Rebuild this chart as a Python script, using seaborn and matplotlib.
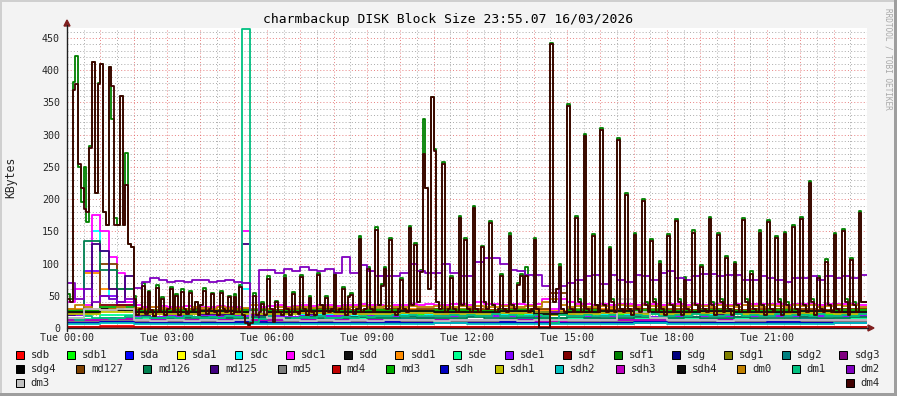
import numpy as np
import pandas as pd
import matplotlib
matplotlib.use("Agg")
import matplotlib.pyplot as plt
import seaborn as sns
from matplotlib.patches import Rectangle, Polygon
from matplotlib.lines import Line2D

# device names in legend order (= drawing order)
names = ['sdb', 'sdb1', 'sda', 'sda1', 'sdc', 'sdc1', 'sdd', 'sdd1', 'sde', 'sde1',
         'sdf', 'sdf1', 'sdg', 'sdg1', 'sdg2', 'sdg3', 'sdg4', 'md127', 'md126', 'md125',
         'md5', 'md4', 'md3', 'sdh', 'sdh1', 'sdh2', 'sdh3', 'sdh4', 'dm0', 'dm1',
         'dm2', 'dm3', 'dm4']
colors = ['#FF0000', '#00FF00', '#0000FF', '#FFFF00', '#00FFFF', '#FF00FF', '#111111', '#FF8C00',
          '#00FF90', '#8000FF', '#800000', '#008000', '#000080', '#808000', '#008080', '#800080',
          '#000000', '#804000', '#008050', '#400080', '#808080', '#C00000', '#00B000', '#0000C0',
          '#C0C000', '#00C0C0', '#C000C0', '#101010', '#C08000', '#00C080', '#8000C0', '#C0C0C0',
          '#400000']
legend_rows = [names[:16], names[16:31], names[31:]]
x_labels = ['Tue 00:00', 'Tue 03:00', 'Tue 06:00', 'Tue 09:00',
            'Tue 12:00', 'Tue 15:00', 'Tue 18:00', 'Tue 21:00']

# KBytes, one value per step; the step length is 24h / len(list)
# 5-minute samples
dm4 = [45, 40, 370, 378, 255, 218, 185, 180, 280, 412, 210, 378,
       410, 180, 160, 405, 375, 160, 160, 360, 160, 222, 130, 125,
       45, 20, 30, 65, 22, 56, 28, 18, 62, 25, 45, 20,
       30, 61, 25, 50, 20, 56, 30, 22, 55, 28, 40, 20,
       35, 58, 22, 30, 52, 25, 20, 55, 30, 25, 48, 22,
       48, 25, 63, 20, 8, 5, 8, 50, 20, 25, 38, 20,
       76, 30, 10, 40, 25, 20, 78, 30, 20, 52, 25, 22,
       79, 30, 20, 47, 25, 20, 83, 35, 22, 46, 25, 30,
       82, 25, 30, 61, 20, 48, 51, 22, 30, 138, 25, 30,
       92, 30, 25, 152, 35, 65, 92, 30, 137, 25, 20, 30,
       74, 30, 25, 155, 35, 129, 40, 87, 270, 217, 60, 358,
       275, 40, 30, 254, 25, 30, 77, 30, 25, 171, 35, 137,
       30, 25, 186, 30, 25, 125, 40, 30, 163, 35, 25, 30,
       80, 30, 25, 143, 35, 30, 66, 80, 40, 81, 25, 30,
       137, 30, 0, 0, 0, 0, 440, 40, 60, 95, 30, 25,
       345, 30, 25, 171, 40, 25, 298, 30, 25, 143, 35, 25,
       308, 35, 25, 123, 40, 25, 292, 30, 25, 206, 30, 20,
       145, 30, 25, 197, 35, 25, 135, 40, 25, 100, 30, 20,
       142, 35, 25, 166, 40, 20, 75, 30, 25, 148, 35, 25,
       95, 30, 25, 169, 35, 20, 145, 40, 25, 108, 30, 20,
       100, 35, 25, 168, 40, 25, 84, 30, 25, 148, 35, 20,
       165, 30, 25, 140, 40, 20, 146, 35, 25, 157, 30, 20,
       169, 35, 25, 225, 40, 20, 77, 30, 25, 103, 35, 25,
       145, 30, 25, 150, 40, 20, 105, 35, 25, 178, 40, 40]
sdf1 = [52, 45, 382, 422, 250, 195, 250, 165, 282, 412, 210, 380,
        410, 180, 160, 405, 325, 170, 160, 360, 160, 272, 130, 125,
        50, 20, 30, 70, 22, 58, 28, 18, 66, 25, 48, 20,
        30, 64, 25, 52, 20, 60, 30, 22, 57, 28, 40, 20,
        35, 62, 22, 30, 55, 25, 20, 58, 30, 25, 50, 22,
        52, 25, 66, 20, 8, 5, 8, 54, 20, 25, 40, 20,
        80, 30, 10, 42, 25, 20, 82, 30, 20, 56, 25, 22,
        82, 30, 20, 50, 25, 20, 85, 35, 22, 50, 25, 30,
        85, 25, 30, 64, 20, 50, 54, 22, 30, 142, 25, 30,
        95, 30, 25, 156, 35, 68, 95, 30, 140, 25, 20, 30,
        78, 30, 25, 158, 35, 132, 40, 90, 325, 217, 60, 358,
        278, 40, 30, 258, 25, 30, 80, 30, 25, 174, 35, 140,
        30, 25, 189, 30, 25, 128, 40, 30, 166, 35, 25, 30,
        84, 30, 25, 148, 35, 30, 70, 84, 40, 95, 25, 30,
        140, 30, 0, 0, 0, 0, 443, 40, 60, 100, 30, 25,
        348, 30, 25, 174, 45, 25, 301, 30, 25, 146, 35, 25,
        311, 35, 25, 126, 45, 25, 295, 30, 25, 209, 30, 20,
        148, 30, 25, 200, 40, 25, 138, 45, 25, 104, 30, 20,
        146, 35, 25, 169, 45, 20, 79, 30, 25, 152, 35, 25,
        98, 30, 25, 173, 40, 20, 148, 45, 25, 111, 30, 20,
        103, 35, 25, 171, 45, 25, 88, 30, 25, 152, 35, 20,
        168, 30, 25, 143, 45, 20, 149, 40, 25, 160, 30, 20,
        172, 35, 25, 228, 45, 20, 81, 30, 25, 107, 35, 25,
        148, 30, 25, 154, 45, 20, 108, 40, 25, 181, 40, 40]

# 15-minute samples
sdc1 = [40, 60, 35, 175, 150, 110, 85, 40, 35, 32, 33, 34,
        33, 32, 34, 33, 32, 33, 34, 32, 33, 150, 28, 32,
        34, 35, 33, 34, 35, 34, 36, 35, 34, 36, 35, 37,
        36, 35, 34, 36, 35, 37, 36, 38, 36, 35, 38, 37,
        36, 40, 38, 37, 36, 38, 37, 36, 38, 45, 30, 45,
        40, 38, 37, 36, 38, 36, 37, 38, 36, 37, 38, 36,
        37, 38, 36, 37, 36, 38, 37, 36, 37, 36, 38, 37,
        38, 37, 36, 38, 37, 38, 36, 37, 38, 37, 38, 36]
sdc = [20, 25, 30, 150, 120, 45, 30, 25, 24, 25, 26, 25,
       24, 25, 24, 25, 26, 25, 24, 25, 24, 60, 15, 18,
       18, 20, 22, 21, 20, 22, 21, 20, 22, 21, 20, 22,
       21, 20, 22, 21, 22, 21, 23, 22, 21, 22, 20, 22,
       23, 22, 21, 22, 22, 21, 23, 22, 21, 25, 15, 25,
       24, 22, 23, 22, 21, 22, 23, 22, 22, 21, 22, 23,
       22, 23, 21, 22, 23, 22, 24, 22, 22, 23, 22, 21,
       23, 22, 21, 23, 22, 23, 22, 24, 23, 22, 23, 22]
md125 = [20, 25, 30, 130, 120, 60, 40, 80, 22, 20, 21, 22,
         21, 22, 20, 21, 22, 21, 20, 22, 21, 130, 10, 20,
         22, 24, 25, 23, 24, 22, 25, 24, 23, 25, 24, 22,
         24, 23, 25, 24, 25, 24, 23, 25, 24, 22, 25, 24,
         25, 23, 24, 25, 24, 25, 23, 24, 22, 20, 10, 20,
         22, 24, 23, 25, 24, 23, 25, 24, 23, 25, 24, 22,
         25, 24, 23, 25, 24, 25, 22, 24, 23, 24, 25, 23,
         24, 22, 25, 24, 25, 24, 23, 24, 24, 25, 23, 24]
dm0 = [30, 35, 32, 30, 28, 30, 32, 30, 31, 30, 32, 31,
       30, 31, 30, 32, 31, 30, 32, 31, 30, 31, 35, 25,
       30, 32, 31, 33, 32, 31, 33, 32, 31, 33, 32, 34,
       33, 32, 34, 33, 32, 34, 33, 32, 34, 33, 32, 34,
       33, 34, 32, 33, 34, 32, 33, 34, 33, 40, 45, 35,
       33, 34, 32, 33, 34, 33, 35, 34, 33, 35, 34, 33,
       35, 34, 33, 35, 34, 33, 35, 34, 33, 35, 34, 33,
       35, 34, 33, 35, 34, 35, 33, 34, 35, 34, 35, 33]
dm1 = [15, 12, 18, 15, 16, 14, 15, 18, 16, 17, 15, 16,
       17, 16, 18, 17, 16, 17, 16, 18, 17, 464, 10, 14,
       18, 16, 12, 15, 17, 15, 18, 16, 15, 17, 16, 18,
       17, 19, 18, 20, 18, 20, 19, 18, 19, 18, 20, 19,
       20, 18, 19, 21, 19, 20, 18, 19, 20, 18, 8, 20,
       19, 18, 20, 19, 18, 20, 19, 18, 20, 19, 21, 18,
       19, 20, 18, 21, 20, 18, 19, 20, 21, 19, 20, 18,
       19, 21, 18, 20, 20, 18, 21, 19, 18, 20, 19, 21]
dm2 = [70, 45, 60, 40, 50, 45, 40, 45, 62, 72, 77, 75,
       72, 73, 72, 74, 74, 72, 73, 74, 72, 70, 20, 90,
       90, 85, 92, 88, 95, 90, 88, 92, 85, 110, 85, 98,
       89, 80, 80, 80, 85, 100, 88, 85, 85, 100, 85, 80,
       80, 102, 108, 108, 100, 90, 89, 82, 82, 65, 25, 65,
       70, 75, 80, 82, 68, 82, 75, 72, 82, 80, 75, 85,
       89, 78, 75, 80, 84, 84, 80, 82, 82, 75, 75, 80,
       78, 75, 72, 78, 78, 80, 75, 80, 78, 80, 78, 82]

# 30-minute samples
md126 = [15, 135, 90, 60, 20, 16, 15, 16, 17, 15, 16, 17,
         15, 16, 17, 15, 16, 17, 16, 15, 17, 16, 15, 16,
         17, 15, 16, 17, 16, 15, 17, 16, 15, 16, 17, 15,
         16, 17, 16, 15, 17, 16, 15, 16, 17, 15, 16, 17]
md127 = [25, 30, 100, 60, 28, 27, 28, 29, 28, 27, 30, 28,
         28, 29, 28, 30, 29, 28, 27, 29, 28, 30, 29, 28,
         29, 28, 30, 28, 29, 55, 28, 29, 28, 30, 29, 28,
         29, 28, 30, 29, 28, 29, 30, 28, 29, 28, 30, 29]
sdd1 = [30, 85, 60, 30, 27, 28, 27, 28, 27, 28, 27, 28,
        27, 28, 27, 28, 29, 28, 27, 28, 29, 28, 27, 28,
        28, 27, 28, 29, 28, 27, 28, 27, 29, 28, 27, 28,
        28, 27, 28, 29, 28, 27, 28, 29, 28, 27, 28, 29]
dm3 = [15, 30, 28, 30, 12, 11, 12, 11, 12, 11, 12, 25,
       15, 12, 11, 12, 11, 12, 11, 12, 13, 12, 11, 12,
       12, 13, 12, 11, 12, 13, 12, 12, 13, 45, 25, 15,
       12, 13, 12, 11, 12, 13, 12, 12, 13, 12, 12, 13]
sde1 = [20, 88, 50, 35, 18, 17, 18, 17, 18, 17, 18, 17,
        18, 17, 18, 19, 18, 17, 18, 19, 18, 17, 18, 19,
        18, 19, 18, 17, 18, 20, 18, 17, 18, 19, 18, 17,
        18, 17, 19, 18, 17, 18, 19, 18, 17, 18, 19, 18]

# hourly samples
sdb = [2, 3, 2, 2, 2, 2, 1, 2, 2, 2, 2, 2, 2, 2, 1, 2, 2, 2, 2, 2, 2, 2, 2, 2]
sdb1 = [22, 30, 21, 22, 21, 22, 21, 22, 23, 22, 21, 22, 22, 21, 20, 22, 21, 22, 23, 22, 21, 22, 21, 22]
sda = [9, 12, 9, 8, 9, 8, 9, 8, 9, 9, 8, 9, 9, 8, 9, 8, 9, 9, 8, 9, 8, 9, 9, 8]
sda1 = [10, 14, 10, 10, 11, 10, 10, 11, 10, 10, 11, 10, 10, 11, 10, 10, 11, 10, 10, 11, 10, 10, 11, 10]
sdd = [24, 30, 24, 23, 24, 23, 24, 25, 24, 23, 24, 25, 24, 23, 20, 24, 25, 24, 23, 24, 25, 24, 23, 24]
sde = [14, 20, 14, 13, 14, 15, 14, 13, 14, 15, 14, 14, 13, 14, 15, 14, 13, 14, 15, 14, 14, 13, 14, 15]
sdf = [26, 35, 27, 26, 27, 26, 27, 26, 27, 26, 27, 26, 27, 26, 20, 27, 26, 27, 26, 27, 26, 27, 26, 27]
sdg = [8, 9, 8, 8, 9, 8, 8, 9, 8, 8, 9, 8, 8, 9, 8, 8, 9, 8, 8, 9, 8, 8, 9, 8]
sdg1 = [28, 30, 28, 29, 28, 29, 28, 29, 28, 29, 28, 29, 28, 29, 25, 29, 28, 29, 28, 29, 28, 29, 28, 29]
sdg2 = [13, 15, 13, 13, 14, 13, 13, 14, 13, 13, 14, 13, 13, 14, 12, 13, 14, 13, 13, 14, 13, 13, 14, 13]
sdg3 = [11, 13, 11, 11, 12, 11, 11, 12, 11, 11, 12, 11, 11, 12, 10, 11, 12, 11, 11, 12, 11, 11, 12, 11]
sdg4 = [24, 28, 24, 24, 25, 24, 24, 25, 24, 24, 25, 24, 24, 25, 20, 24, 25, 24, 24, 25, 24, 24, 25, 24]
md5 = [10, 12, 10, 10, 11, 10, 10, 11, 10, 10, 11, 10, 10, 11, 9, 10, 11, 10, 10, 11, 10, 10, 11, 10]
md4 = [1, 2, 1, 1, 1, 1, 1, 1, 1, 1, 1, 1, 1, 1, 1, 1, 1, 1, 1, 1, 2, 1, 1, 1]
md3 = [27, 32, 27, 28, 27, 28, 27, 28, 27, 28, 27, 28, 27, 28, 22, 28, 27, 28, 27, 28, 27, 28, 27, 28]
sdh = [8, 10, 8, 8, 8, 9, 8, 8, 8, 9, 8, 8, 8, 9, 7, 8, 8, 9, 8, 8, 8, 9, 8, 8]
sdh1 = [22, 25, 22, 22, 23, 22, 22, 23, 22, 22, 23, 22, 22, 23, 20, 22, 23, 22, 22, 23, 22, 22, 23, 22]
sdh2 = [6, 7, 6, 6, 6, 6, 6, 6, 6, 6, 6, 7, 6, 6, 6, 6, 6, 7, 6, 6, 6, 6, 6, 7]
sdh3 = [12, 14, 12, 12, 13, 12, 12, 13, 12, 12, 13, 12, 12, 13, 11, 12, 13, 12, 12, 13, 12, 12, 13, 12]
sdh4 = [25, 29, 25, 25, 26, 25, 25, 26, 25, 25, 26, 25, 25, 26, 21, 25, 26, 25, 25, 26, 25, 25, 26, 25]

series = {'sdb': sdb, 'sdb1': sdb1, 'sda': sda, 'sda1': sda1, 'sdc': sdc, 'sdc1': sdc1,
          'sdd': sdd, 'sdd1': sdd1, 'sde': sde, 'sde1': sde1, 'sdf': sdf, 'sdf1': sdf1,
          'sdg': sdg, 'sdg1': sdg1, 'sdg2': sdg2, 'sdg3': sdg3, 'sdg4': sdg4,
          'md127': md127, 'md126': md126, 'md125': md125, 'md5': md5, 'md4': md4, 'md3': md3,
          'sdh': sdh, 'sdh1': sdh1, 'sdh2': sdh2, 'sdh3': sdh3, 'sdh4': sdh4,
          'dm0': dm0, 'dm1': dm1, 'dm2': dm2, 'dm3': dm3, 'dm4': dm4}

frames = []
for name in names:
    vals = series[name]
    n = len(vals)
    t = np.arange(n + 1) * 24.0 / n
    frames.append(pd.DataFrame({'t': t, 'v': list(vals) + [vals[-1]], 'dev': name}))
df = pd.concat(frames, ignore_index=True)

sns.set_style('white')
plt.rcParams['font.family'] = ['DejaVu Sans Mono']

W, H = 897, 396
fig = plt.figure(figsize=(W / 100, H / 100), dpi=100, facecolor='#F3F3F3')


def fx(px):
    return px / W


def fy(py):
    return 1 - py / H


x0, x1, ytop, ybot = 67, 867, 28, 328
ax = fig.add_axes([fx(x0), fy(ybot), (x1 - x0) / W, (ybot - ytop) / H])
ax.set_facecolor('white')
ymax = 465.5
ax.set_xlim(0, 24)
ax.set_ylim(0, ymax)

# grid: minor gray dotted, major red dotted
minor_c = (0.56, 0.56, 0.56, 0.8)
major_c = (0.87, 0.31, 0.31, 0.75)
for y in range(10, 466, 10):
    ax.axhline(y, color=major_c if y % 50 == 0 else minor_c, lw=0.65, ls=(0, (1.1, 2.4)), zorder=0)
for h in np.arange(0.5, 24, 0.5):
    ax.axvline(h, color=major_c if h % 1 == 0 else minor_c, lw=0.65, ls=(0, (1.1, 2.4)), zorder=0)

sns.lineplot(data=df, x='t', y='v', hue='dev', hue_order=names,
             palette=dict(zip(names, colors)), drawstyle='steps-post',
             estimator=None, sort=False, legend=False, linewidth=1.3, ax=ax)

for s in ax.spines.values():
    s.set_visible(False)
ax.set_xlabel('')
ax.set_ylabel('')
ax.set_xticks(range(0, 24, 3))
ax.set_xticklabels(x_labels)
ax.set_yticks(range(0, 451, 50))
ax.set_yticklabels([str(v) for v in range(0, 451, 50)])
ax.tick_params(axis='x', length=0, pad=3.5, labelsize=7.2)
ax.tick_params(axis='y', length=0, pad=5, labelsize=7.2)

# axes lines with arrows
axis_col = '#1f1f1f'
arrow_col = '#7f1f1f'
fig.add_artist(Line2D([fx(x0), fx(868)], [fy(ybot), fy(ybot)], color=axis_col, lw=1.0))
fig.add_artist(Line2D([fx(x0), fx(x0)], [fy(ybot + 3), fy(25)], color=axis_col, lw=1.0))
fig.add_artist(Polygon([[fx(868), fy(ybot - 3)], [fx(874), fy(ybot)], [fx(868), fy(ybot + 3)]],
                       closed=True, color=arrow_col))
fig.add_artist(Polygon([[fx(x0 - 3), fy(26)], [fx(x0), fy(20)], [fx(x0 + 3), fy(26)]],
                       closed=True, color=arrow_col))

# frame shading
fig.add_artist(Rectangle((0, fy(2)), 1, 2 / H, color='#CFCFCF', lw=0))
fig.add_artist(Rectangle((0, 0), 2 / W, 1, color='#CFCFCF', lw=0))
fig.add_artist(Rectangle((0, 0), 1, 3 / H, color='#9E9E9E', lw=0))
fig.add_artist(Rectangle((1 - 3 / W, 0), 3 / W, 1, color='#9E9E9E', lw=0))

fig.text(0.5, fy(19), 'charmbackup DISK Block Size 23:55.07 16/03/2026',
         ha='center', va='center', fontsize=9.4, color='black')
fig.text(fx(11), fy(177), 'KBytes', rotation=90, ha='center', va='center', fontsize=8.3)
fig.text(fx(888), fy(59), 'RRDTOOL / TOBI OETIKER', rotation=270, ha='center', va='center',
         fontsize=5.6, color='#a8a8a8')

# justified legend rows
char_w, text_off, box = 6.4, 15, 8
lx0, lx1 = 15.7, 880
row_y = [354.5, 368.5, 382.5]
col = dict(zip(names, colors))
for ry, row in zip(row_y, legend_rows):
    widths = [text_off + len(nm) * char_w for nm in row]
    gap = (lx1 - lx0 - sum(widths)) / (len(row) - 1)
    x = lx0
    for nm, w in zip(row, widths):
        fig.add_artist(Rectangle((fx(x), fy(ry + box / 2)), box / W, box / H,
                                 facecolor=col[nm], edgecolor='black', lw=0.72))
        fig.text(fx(x + text_off), fy(ry), nm, ha='left', va='center', fontsize=7.7)
        x += w + gap

fig.savefig('out.png', dpi=100, facecolor=fig.get_facecolor())
